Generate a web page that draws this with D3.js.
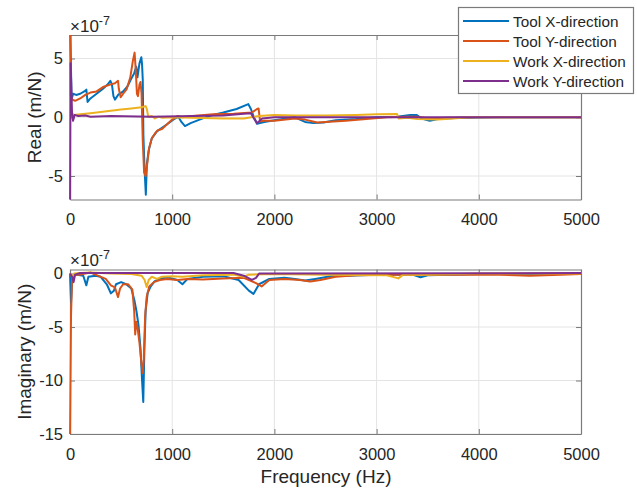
<!DOCTYPE html>
<html>
<head>
<meta charset="utf-8">
<script src="https://cdn.jsdelivr.net/npm/d3@7"></script>
<style>
  html, body { margin: 0; padding: 0; background: #fff; }
  svg { display: block; font-family: "Liberation Sans", Arial, sans-serif; }
</style>
</head>
<body>
<svg id="chart" width="637" height="489"></svg>
<script>
// Frequency response function measurements, values in units of 1e-7 m/N.
const freqTicks = [0, 1000, 2000, 3000, 4000, 5000];
const realTicks = [-5, 0, 5];
const imagTicks = [-15, -10, -5, 0];
const seriesNames = ["Tool X-direction", "Tool Y-direction", "Work X-direction", "Work Y-direction"];

// Real part
const toolXRealFreq = [0, 15, 30, 60, 100, 140, 160, 172, 200, 260, 320, 370, 395, 410, 425, 440, 470, 520, 560, 600, 626, 648, 660, 680, 698, 705, 712, 718, 730, 742, 752, 770, 800, 850, 900, 950, 1010, 1060, 1090, 1125, 1180, 1300, 1400, 1500, 1630, 1745, 1770, 1800, 1830, 1900, 2000, 2200, 2300, 2380, 2480, 2600, 2800, 3000, 3200, 3330, 3390, 3440, 3520, 3600, 3800, 4200, 5000];
const toolXRealVal  = [9, 1.5, 2.0, 1.9, 2.0, 2.2, 2.35, 1.3, 1.6, 2.0, 2.4, 2.8, 3.1, 2.8, 1.8, 1.5, 1.9, 2.2, 2.6, 3.3, 3.7, 4.3, 3.4, 4.6, 5.1, 4.5, 3.2, -1.5, -4.5, -6.6, -4.0, -2.8, -1.8, -1.2, -0.9, -0.6, -0.2, 0.05, -0.4, -0.75, -0.5, -0.1, 0.2, 0.4, 0.7, 1.12, 0.7, 0.0, -0.55, -0.4, -0.25, 0, -0.4, -0.5, -0.45, -0.25, -0.15, 0, 0.05, 0.2, 0.2, -0.1, -0.3, -0.15, -0.05, 0, 0];

const toolYRealFreq = [0, 8, 20, 50, 100, 150, 200, 260, 330, 400, 440, 470, 478, 496, 520, 555, 590, 615, 632, 642, 655, 665, 680, 690, 700, 712, 725, 740, 755, 775, 800, 830, 860, 900, 950, 1000, 1050, 1100, 1200, 1400, 1600, 1780, 1830, 1845, 1860, 1900, 2000, 2200, 2300, 2420, 2500, 2700, 2900, 3100, 3300, 3400, 3500, 3700, 4000, 5000];
const toolYRealVal  = [9, 1.8, 1.5, 1.4, 1.6, 1.9, 2.1, 2.2, 2.6, 2.8, 2.9, 3.1, 2.4, 1.7, 2.0, 2.4, 3.4, 4.8, 5.5, 4.2, 2.0, 1.8, 2.8, 3.0, 2.0, -2.0, -4.7, -5.0, -4.0, -2.6, -1.8, -1.4, -1.1, -1.0, -0.6, -0.2, 0.1, 0.0, 0.1, 0.25, 0.3, 0.4, 0.7, 0.75, -0.35, -0.3, -0.3, -0.1, -0.2, -0.45, -0.4, -0.3, -0.15, 0, 0.05, 0.05, -0.1, -0.05, 0, 0];

const workXRealFreq = [20, 40, 100, 200, 300, 400, 500, 600, 700, 740, 752, 765, 800, 830, 870, 900, 1000, 1200, 1500, 1700, 1850, 2000, 2200, 2500, 2800, 3000, 3200, 3215, 3300, 3400, 3600, 3750, 3900, 5000];
const workXRealVal  = [0.3, 0.2, 0.25, 0.35, 0.45, 0.55, 0.65, 0.75, 0.85, 0.95, 0.7, 0.05, 0.1, -0.1, 0.05, -0.05, 0, -0.05, -0.1, -0.1, 0.1, 0.2, 0.15, 0.15, 0.2, 0.25, 0.28, -0.1, -0.05, -0.15, -0.2, -0.1, 0, 0];

const workYRealFreq = [0, 5, 12, 20, 30, 45, 80, 150, 200, 400, 800, 1200, 1500, 1700, 1770, 1800, 1830, 1880, 2000, 5000];
const workYRealVal  = [-9, 4.6, 3.0, 0.3, -0.3, 0.2, 0.1, 0.15, 0.05, 0.1, 0.05, 0.1, 0.15, 0.3, 0.35, -0.1, -0.5, -0.1, 0, 0];

// Imaginary part
const toolXImagFreq = [0, 10, 20, 35, 60, 130, 160, 180, 250, 300, 360, 400, 430, 450, 500, 550, 600, 630, 650, 670, 690, 705, 717, 728, 740, 760, 790, 830, 880, 950, 1050, 1100, 1150, 1300, 1500, 1650, 1750, 1795, 1850, 1950, 2100, 2200, 2300, 2400, 2550, 3000, 3350, 3430, 3500, 4000, 5000];
const toolXImagVal  = [0, -2.7, -0.8, -0.2, -0.1, -0.2, -1.1, -0.3, -0.2, -0.3, -1.0, -1.85, -1.6, -1.0, -0.8, -1.0, -1.4, -2.5, -3.5, -4.8, -7.0, -10.0, -12.0, -7.0, -3.5, -1.8, -1.2, -0.7, -0.5, -0.35, -0.6, -1.0, -0.5, -0.3, -0.25, -0.6, -1.6, -1.9, -1.0, -0.5, -0.4, -0.5, -0.65, -0.5, -0.25, -0.1, -0.1, -0.35, -0.15, -0.05, -0.05];

const toolYImagFreq = [0, 10, 20, 40, 100, 200, 250, 350, 400, 440, 470, 490, 520, 570, 610, 628, 638, 648, 660, 680, 700, 712, 722, 735, 750, 775, 820, 880, 950, 1050, 1150, 1300, 1500, 1700, 1820, 1875, 1950, 2100, 2250, 2350, 2450, 2600, 2800, 3200, 3500, 4200, 4500, 4800, 5000];
const toolYImagVal  = [-16, -4, -0.5, -0.1, -0.1, 0.1, -0.1, -0.5, -1.1, -1.3, -2.2, -1.4, -1.0, -1.0, -1.5, -3.5, -5.7, -4.5, -5.0, -6.5, -8.5, -9.3, -8.0, -4.0, -2.2, -1.2, -0.8, -0.6, -0.5, -0.6, -0.5, -0.55, -0.45, -0.4, -0.9, -1.2, -0.6, -0.5, -0.6, -0.75, -0.6, -0.3, -0.15, -0.1, -0.1, -0.1, -0.2, -0.1, -0.05];

const workXImagFreq = [0, 20, 40, 100, 200, 400, 600, 700, 730, 750, 770, 800, 850, 900, 1000, 1100, 1300, 1600, 1700, 1750, 2000, 2500, 3100, 3213, 3260, 3500, 4000, 5000];
const workXImagVal  = [0, -0.3, 0, 0.05, 0.1, 0, -0.05, -0.2, -0.6, -1.25, -0.6, -0.3, -0.5, -0.3, -0.25, -0.3, -0.15, -0.1, -0.3, -0.1, -0.05, -0.1, -0.15, -0.45, -0.1, -0.1, 0, 0];

const workYImagFreq = [0, 20, 35, 50, 100, 1600, 1700, 1780, 1820, 1850, 5000];
const workYImagVal  = [0, -0.3, -0.8, -0.1, 0.05, 0.05, -0.2, -0.6, -0.4, 0, 0.05];

const lineColors = ["#0072BD", "#D95319", "#EDB120", "#7E2F8E"];

const zip = (fs, vs) => fs.map((f, i) => ({ f, v: vs[i] }));
const realSeries = [
  zip(toolXRealFreq, toolXRealVal), zip(toolYRealFreq, toolYRealVal),
  zip(workXRealFreq, workXRealVal), zip(workYRealFreq, workYRealVal)
];
const imagSeries = [
  zip(toolXImagFreq, toolXImagVal), zip(toolYImagFreq, toolYImagVal),
  zip(workXImagFreq, workXImagVal), zip(workYImagFreq, workYImagVal)
];

const svg = d3.select("#chart");
const left = 70, right = 581;
const x = d3.scaleLinear().domain([0, 5000]).range([left, right]);

const textColor = "#262626";
const boxColor = "#7a7a7a";
const gridColor = "#e4e4e4";

function drawPanel(id, top, bottom, domain, yTicks, series, label, labelX) {
  const y = d3.scaleLinear().domain(domain).range([bottom, top]);
  const g = svg.append("g");

  // grid
  g.append("g").selectAll("line").data(freqTicks.slice(1, -1)).join("line")
    .attr("x1", d => x(d)).attr("x2", d => x(d)).attr("y1", top).attr("y2", bottom)
    .attr("stroke", gridColor).attr("stroke-width", 1);
  g.append("g").selectAll("line").data(yTicks).join("line")
    .attr("x1", left).attr("x2", right).attr("y1", d => y(d)).attr("y2", d => y(d))
    .attr("stroke", gridColor).attr("stroke-width", 1);

  // data lines, clipped vertically to the axes box (a little slack at the sides
  // so the steep curves at 0 Hz keep their full stroke width)
  g.append("clipPath").attr("id", id).append("rect")
    .attr("x", left - 2).attr("y", top).attr("width", right - left + 4).attr("height", bottom - top);
  const line = d3.line().x(d => x(d.f)).y(d => y(d.v));

  // axes (ticks inward, mirrored on the opposite sides)
  const tickFont = g => g.selectAll("text").attr("font-size", 16.5).attr("fill", textColor)
    .attr("font-family", "'Liberation Sans', Arial, sans-serif");
  const bottomAxis = g.append("g").attr("transform", `translate(0,${bottom})`)
    .call(d3.axisBottom(x).tickValues(freqTicks).tickSizeInner(-5).tickSizeOuter(0).tickPadding(14)
      .tickFormat(d3.format("d")));
  bottomAxis.call(tickFont);
  const topAxis = g.append("g").attr("transform", `translate(0,${top})`)
    .call(d3.axisTop(x).tickValues(freqTicks).tickSizeInner(-5).tickSizeOuter(0).tickFormat(""));
  const leftAxis = g.append("g").attr("transform", `translate(${left},0)`)
    .call(d3.axisLeft(y).tickValues(yTicks).tickSizeInner(-5).tickSizeOuter(0).tickPadding(7)
      .tickFormat(d => String(d)));
  leftAxis.call(tickFont);
  const rightAxis = g.append("g").attr("transform", `translate(${right},0)`)
    .call(d3.axisRight(y).tickValues(yTicks).tickSizeInner(-5).tickSizeOuter(0).tickFormat(""));
  [bottomAxis, topAxis, leftAxis, rightAxis].forEach(a => {
    a.select(".domain").attr("stroke", boxColor).attr("stroke-width", 1.2);
    a.selectAll(".tick line").attr("stroke", boxColor);
  });

  g.append("g").attr("clip-path", `url(#${id})`)
    .selectAll("path").data(series).join("path")
    .attr("d", line).attr("fill", "none")
    .attr("stroke", (d, i) => lineColors[i])
    .attr("stroke-width", 2).attr("stroke-linejoin", "round");

  // exponent label
  const ex = g.append("text").attr("x", left).attr("y", top - 3.5)
    .attr("font-size", 17).attr("fill", textColor);
  ex.append("tspan").text("\u00d710");
  ex.append("tspan").attr("dy", -7).attr("font-size", 12.5).text("-7");

  // y label
  g.append("text")
    .attr("transform", `translate(${labelX},${(top + bottom) / 2}) rotate(-90)`)
    .attr("text-anchor", "middle").attr("font-size", 19).attr("fill", textColor)
    .text(label);
  return y;
}

drawPanel("clipReal", 35, 199.5, [-7, 7], realTicks, realSeries, "Real (m/N)", 41);
drawPanel("clipImag", 269.5, 434, [-15, 0.38], imagTicks, imagSeries, "Imaginary (m/N)", 31);

svg.append("text").attr("x", 326).attr("y", 483)
  .attr("text-anchor", "middle").attr("font-size", 19).attr("fill", textColor)
  .text("Frequency (Hz)");

// legend
const lg = svg.append("g");
lg.append("rect").attr("x", 458.5).attr("y", 7.5).attr("width", 175).attr("height", 86)
  .attr("fill", "#fff").attr("stroke", boxColor).attr("stroke-width", 1.2);
const rows = lg.selectAll("g.row").data(seriesNames).join("g").attr("class", "row")
  .attr("transform", (d, i) => `translate(0,${21 + i * 20})`);
rows.append("line").attr("x1", 463).attr("x2", 509).attr("y1", 0).attr("y2", 0)
  .attr("stroke", (d, i) => lineColors[i]).attr("stroke-width", 2);
rows.append("text").attr("x", 513).attr("y", 5.5).attr("font-size", 15.3)
  .attr("fill", textColor).text(d => d);
</script>
</body>
</html>
